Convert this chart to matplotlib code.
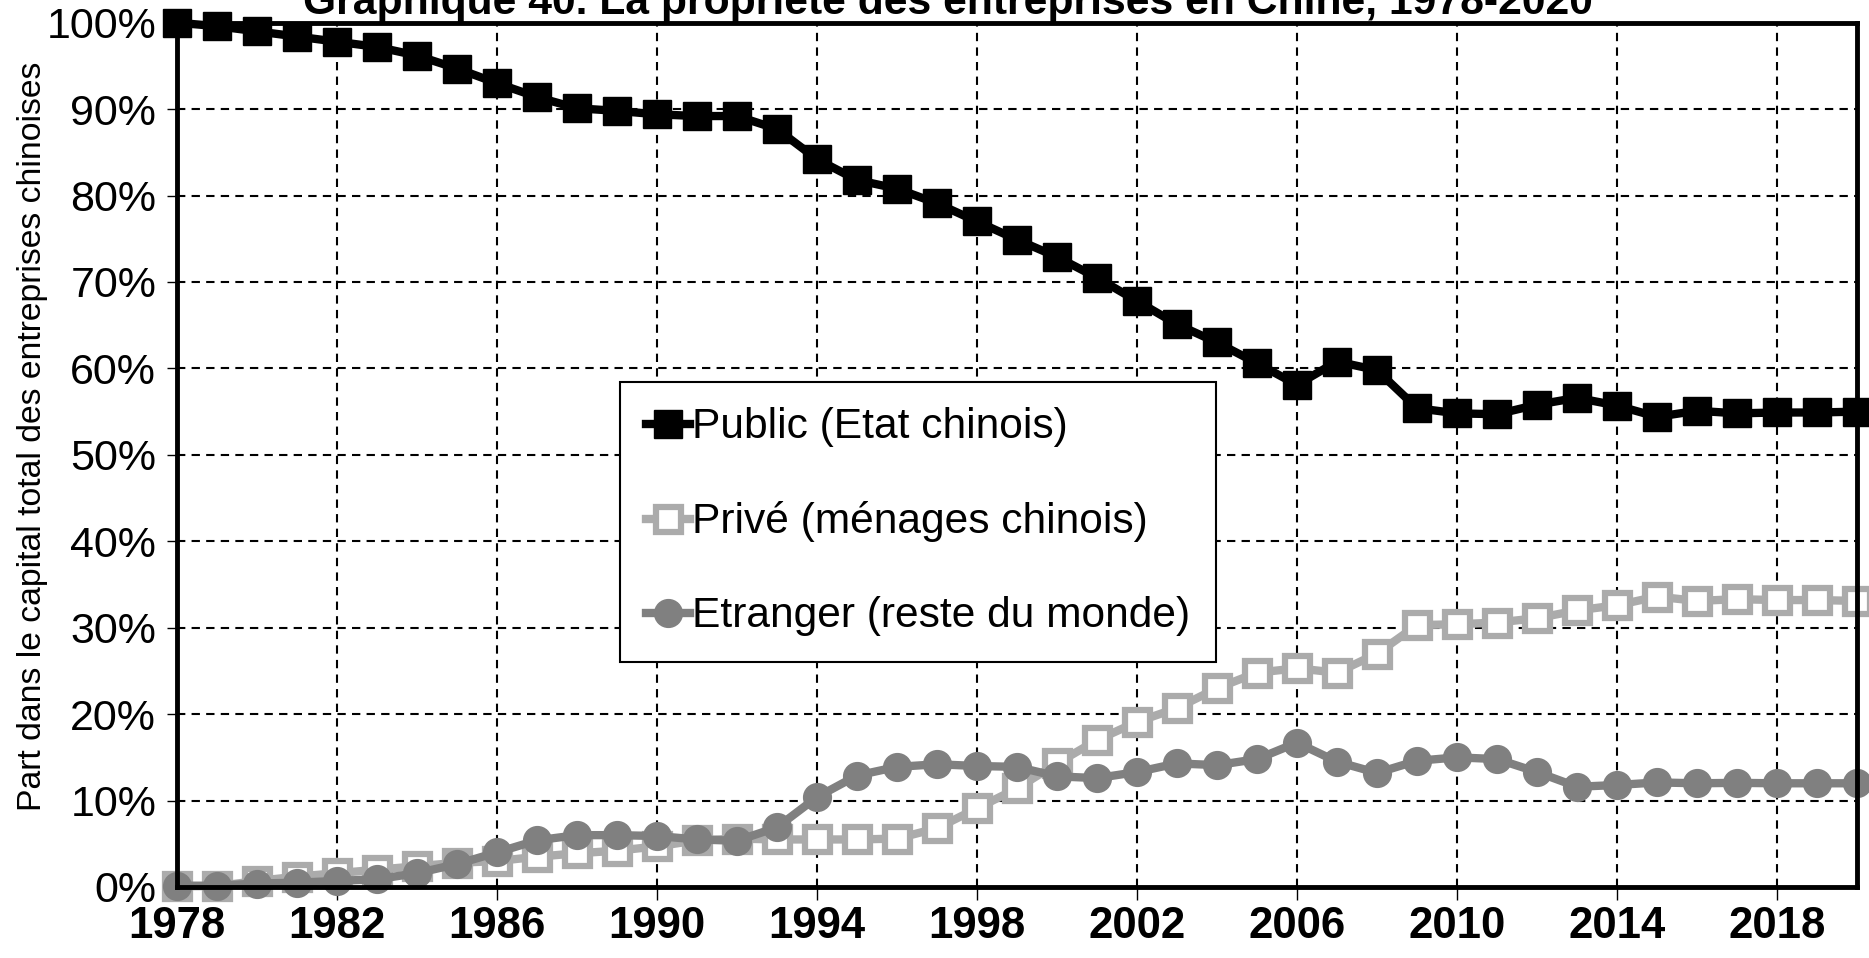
import matplotlib
matplotlib.use("Agg")
import matplotlib.pyplot as plt

plt.rcParams['font.family'] = ['Liberation Sans', 'DejaVu Sans']

# --- Données (part du capital, en %) ---
annees = list(range(1978, 2021))

public = [100.0, 99.6, 99.0, 98.4, 97.8, 97.2, 96.2, 94.7, 93.0, 91.4,
          90.1, 89.8, 89.4, 89.2, 89.2, 87.7, 84.2, 81.8, 80.8, 79.1,
          77.0, 74.9, 72.9, 70.5, 67.8, 65.1, 63.0, 60.6, 58.1, 60.8,
          59.8, 55.4, 54.8, 54.7, 55.8, 56.6, 55.7, 54.4, 55.1, 54.8,
          54.9, 54.9, 55.0]

prive = [0.1, 0.1, 0.7, 1.2, 1.6, 2.0, 2.4, 2.8, 3.0, 3.5,
         3.9, 4.2, 4.7, 5.4, 5.6, 5.5, 5.5, 5.5, 5.6, 6.8,
         9.1, 11.4, 14.3, 17.0, 19.1, 20.7, 23.0, 24.8, 25.3, 24.8,
         27.0, 30.3, 30.4, 30.6, 31.1, 32.0, 32.6, 33.6, 33.1, 33.3,
         33.2, 33.2, 33.1]

etranger = [0.15, 0.15, 0.4, 0.5, 0.7, 0.9, 1.6, 2.65, 4.0, 5.4,
            6.0, 6.0, 5.9, 5.5, 5.35, 6.9, 10.4, 12.9, 13.9, 14.2,
            14.0, 13.9, 12.8, 12.6, 13.3, 14.3, 14.1, 14.8, 16.7, 14.5,
            13.2, 14.6, 15.0, 14.8, 13.3, 11.6, 11.8, 12.1, 12.0, 12.05,
            12.0, 12.0, 12.0]

annees_ticks = list(range(1978, 2019, 4))
pct_ticks = list(range(0, 101, 10))

W, H = 1869, 958
fig = plt.figure(figsize=(W / 100, H / 100), dpi=100)
ax = fig.add_axes([177 / W, 1 - 887 / H, 1680 / W, (887 - 22.7) / H])

ax.plot(annees, prive, color='#ABABAB', lw=6, marker='s', ms=18,
        mfc='white', mec='#ABABAB', mew=4.5, clip_on=False, zorder=3,
        label='Privé (ménages chinois)')
ax.plot(annees, etranger, color='#808080', lw=6, marker='o', ms=20,
        mfc='#808080', mec='#808080', clip_on=False, zorder=4,
        label='Etranger (reste du monde)')
ax.plot(annees, public, color='black', lw=6, marker='s', ms=19.5,
        mfc='black', mec='black', clip_on=False, zorder=5,
        label='Public (Etat chinois)')

ax.set_xlim(1978, 2020)
ax.set_ylim(0, 100)
ax.set_xticks(annees_ticks)
ax.set_xticklabels([str(a) for a in annees_ticks], fontsize=31.5, fontweight='bold')
ax.set_yticks(pct_ticks)
ax.set_yticklabels([f'{p}%' for p in pct_ticks], fontsize=31)
ax.tick_params(axis='x', direction='out', length=9, width=1, pad=5)
ax.tick_params(axis='y', direction='out', length=7, width=1, pad=8)

ax.grid(True, color='black', lw=1.5, linestyle=(0, (4, 3)))
ax.set_axisbelow(True)
for s in ax.spines.values():
    s.set_linewidth(3.5)
    s.set_zorder(6)

# ordre de la légende : Public, Privé, Etranger
h, l = ax.get_legend_handles_labels()
ordre = [2, 0, 1]
leg = ax.legend([h[i] for i in ordre], [l[i] for i in ordre],
                loc='upper left', bbox_to_anchor=(620 / W, 1 - 382 / H),
                bbox_transform=fig.transFigure, borderaxespad=0,
                fontsize=30.6, frameon=True, fancybox=False, framealpha=1,
                edgecolor='black', handlelength=1.05, handletextpad=0.05,
                labelspacing=1.27, borderpad=0.6)
leg.get_frame().set_linewidth(1.5)
leg.set_zorder(10)

fig.text(948 / W, 1 - 14 / H,
         'Graphique 40. La propriété des entreprises en Chine, 1978-2020',
         ha='center', va='baseline', fontsize=30.7, fontweight='bold')
fig.text(33 / W, 1 - 436 / H,
         'Part dans le capital total des entreprises chinoises',
         rotation=90, ha='center', va='center', fontsize=24.3)

fig.savefig('out.png', dpi=100)
